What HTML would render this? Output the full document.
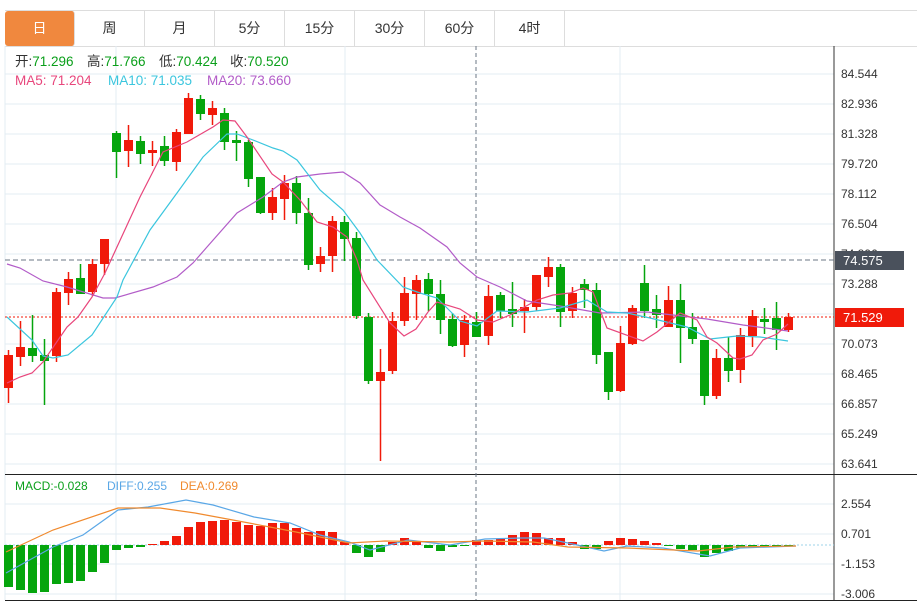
<!DOCTYPE html>
<html><head><meta charset="utf-8"><style>
body{margin:0;background:#fff;width:917px;height:606px;overflow:hidden;font-family:"Liberation Sans","Noto Sans CJK SC",sans-serif}
.tabs{position:absolute;left:5px;top:10px;height:35px;width:912px;border-top:1px solid #ddd;border-bottom:1px solid #ddd}
.tab{position:absolute;top:0;height:35px;width:70px;border-right:1px solid #ddd;text-align:center;line-height:35px;font-size:14px;color:#333;box-sizing:border-box}
.tab.on{background:#f0883e;color:#fff;border-radius:3px}
</style></head><body>
<div class="tabs">
<div class="tab on" style="left:0">日</div><div class="tab" style="left:70px">周</div><div class="tab" style="left:140px">月</div><div class="tab" style="left:210px">5分</div><div class="tab" style="left:280px">15分</div><div class="tab" style="left:350px">30分</div><div class="tab" style="left:420px">60分</div><div class="tab" style="left:490px">4时</div>
</div>
<svg id="s" width="917" height="606" style="position:absolute;left:0;top:0" font-family="Liberation Sans, Noto Sans CJK SC, sans-serif">
<g stroke="#e3ecf3" stroke-width="1">
<line x1="5" y1="74" x2="834" y2="74"/><line x1="5" y1="104" x2="834" y2="104"/><line x1="5" y1="134" x2="834" y2="134"/><line x1="5" y1="164" x2="834" y2="164"/><line x1="5" y1="194" x2="834" y2="194"/><line x1="5" y1="224" x2="834" y2="224"/><line x1="5" y1="254" x2="834" y2="254"/><line x1="5" y1="284" x2="834" y2="284"/><line x1="5" y1="314" x2="834" y2="314"/><line x1="5" y1="344" x2="834" y2="344"/><line x1="5" y1="374" x2="834" y2="374"/><line x1="5" y1="404" x2="834" y2="404"/><line x1="5" y1="434" x2="834" y2="434"/><line x1="5" y1="464" x2="834" y2="464"/>
<line x1="5" y1="504" x2="834" y2="504"/><line x1="5" y1="534" x2="834" y2="534"/><line x1="5" y1="564" x2="834" y2="564"/><line x1="5" y1="594" x2="834" y2="594"/>
<line x1="116" y1="46" x2="116" y2="600"/><line x1="345" y1="46" x2="345" y2="600"/><line x1="620" y1="46" x2="620" y2="600"/>
<line x1="5" y1="46" x2="5" y2="600"/>
</g>
<line x1="834" y1="46" x2="834" y2="600" stroke="#333"/>
<line x1="5" y1="474.5" x2="917" y2="474.5" stroke="#222"/>
<line x1="5" y1="600.5" x2="917" y2="600.5" stroke="#222"/>
<line x1="476" y1="46" x2="476" y2="600" stroke="#6b7785" stroke-dasharray="4,3"/>
<line x1="5" y1="260" x2="834" y2="260" stroke="#6b7785" stroke-dasharray="5,3"/>
<line x1="5" y1="317" x2="834" y2="317" stroke="#f01a0a" stroke-dasharray="2,2"/>
<line x1="5" y1="545" x2="834" y2="545" stroke="#9cd3e8" stroke-dasharray="2,2"/>
<g id="c"></g>
<g fill="none" stroke-width="1.2">
<polyline stroke="#b25cc8" points="7,264 20,268 43,281 67,287 103,298 115,298 153,287 177,277 193,263 207,247 237,213 263,197 283,182 297,177 320,174 343,172 360,183 380,205 400,217 420,228 447,247 460,263 477,277 500,287 527,301 560,306 600,313 647,312 707,319 743,325 788,331"/>
<polyline stroke="#3bc6de" points="7,317 32,340 43,356 53,358 68,355 92,335 117,297 123,280 150,230 177,193 203,157 227,134 237,134 253,140 273,148 283,151 297,160 320,190 343,210 360,233 377,260 403,287 420,293 437,298 460,321 477,326 497,311 527,312 560,308 587,300 607,312 627,313 650,318 687,327 710,339 737,336 760,337 788,341"/>
<polyline stroke="#e8467c" points="7,383 20,377 32,373 43,362 67,327 78,317 92,297 105,273 140,197 163,152 187,142 213,127 223,120 235,121 247,137 272,174 283,182 300,200 317,222 333,227 347,237 357,260 363,280 390,323 404,336 416,329 428,312 437,302 460,309 477,320 493,322 510,315 537,300 553,295 570,293 583,288 593,292 607,328 643,341 657,332 680,313 697,320 707,337 717,343 733,358 740,359 752,355 763,340 777,334 788,324"/>
<polyline stroke="#5aa7e6" points="6,573 53,547 83,535 118,510 148,507 186,500 213,505 254,517 290,523 320,535 349,542 370,550 408,540 450,545 485,539 521,538 544,538 568,543 604,551 627,546 663,548 710,556 740,548 796,546"/>
<polyline stroke="#f08a2e" points="6,552 53,530 118,508 160,508 195,513 249,523 296,532 349,543 385,541 450,542 485,541 533,542 568,547 627,548 698,551 734,547 796,546"/>
</g>
<g font-size="12" fill="#333">
<text x="841" y="78">84.544</text><text x="841" y="108">82.936</text><text x="841" y="138">81.328</text><text x="841" y="168">79.720</text><text x="841" y="198">78.112</text><text x="841" y="228">76.504</text><text x="841" y="258">74.896</text><text x="841" y="288">73.288</text><text x="841" y="348">70.073</text><text x="841" y="378">68.465</text><text x="841" y="408">66.857</text><text x="841" y="438">65.249</text><text x="841" y="468">63.641</text>
<text x="841" y="508">2.554</text><text x="841" y="538">0.701</text><text x="841" y="568">-1.153</text><text x="841" y="598">-3.006</text>
</g>
<rect x="835" y="251" width="69" height="19" fill="#4a515c"/><text x="843" y="265" font-size="13" fill="#fff">74.575</text>
<rect x="835" y="308" width="69" height="19" fill="#f01a0a"/><text x="843" y="322" font-size="13" fill="#fff">71.529</text>
<g font-size="13.5">
<text x="15" y="66" fill="#333">开:<tspan fill="#0a9f1a">71.296</tspan></text>
<text x="87" y="66" fill="#333">高:<tspan fill="#0a9f1a">71.766</tspan></text>
<text x="159" y="66" fill="#333">低:<tspan fill="#0a9f1a">70.424</tspan></text>
<text x="230" y="66" fill="#333">收:<tspan fill="#0a9f1a">70.520</tspan></text>
<text x="15" y="85" fill="#e8467c">MA5: 71.204</text><text x="108" y="85" fill="#3bc6de">MA10: 71.035</text><text x="207" y="85" fill="#b25cc8">MA20: 73.660</text>
</g>
<g font-size="12">
<text x="15" y="490" fill="#0a9f1a">MACD:-0.028</text><text x="107" y="490" fill="#5aa7e6">DIFF:0.255</text><text x="180" y="490" fill="#f08a2e">DEA:0.269</text>
</g>
</svg>
<script>
var C=[
[1,355,388,350,403],[1,347,357,321,366],[0,348,356,315,362],[0,355,361,339,405],[1,292,356,288,362],[1,279,293,272,305],[0,278,294,264,294],[1,264,292,259,296],[1,239,264,239,275],
[0,133,152,131,178],[1,140,151,125,167],[0,141,154,136,164],[1,150,153,141,166],[0,146,161,136,166],[1,132,162,129,171],[1,98,134,93,134],[0,99,114,95,120],[1,108,115,101,125],[0,113,142,108,150],
[0,140,143,131,161],[0,142,179,140,187],[0,177,213,177,214],[1,197,213,188,220],[1,183,199,175,220],[0,183,213,176,224],[0,213,265,198,270],[1,256,264,247,272],[1,221,256,216,272],[0,222,239,216,261],
[0,238,316,232,319],[0,317,381,313,384],[1,372,381,349,461],[1,321,371,312,374],[1,293,321,277,326],[1,280,294,275,320],[0,279,294,273,311],[0,294,320,280,334],[0,319,346,313,347],
[1,320,345,315,357],[0,322,337,312,330],[1,296,336,285,345],[0,295,311,292,318],[0,309,314,282,327],[1,307,311,299,333],[1,275,307,275,311],[1,267,277,257,287],[0,267,312,264,327],[1,293,311,287,318],
[0,284,290,279,308],[0,290,355,283,364],[0,352,392,352,400],[1,343,391,326,392],[1,308,344,305,345],[0,283,311,265,318],[0,309,315,295,328],[1,300,327,286,327],[0,300,328,284,363],[0,327,339,313,344],
[0,340,396,340,405],[1,358,396,349,399],[0,358,371,337,382],[1,335,370,328,383],[1,316,336,310,347],[0,319,322,308,334],[0,318,330,302,350],[1,317,330,313,332]];
var M=[587,590,593,592,584,583,581,572,563,550,548,547,544,541,536,527,522,521,520,522,525,526,523,523,528,532,531,532,542,553,557,552,542,538,542,548,551,547,546,540,540,539,535,532,533,538,538,542,549,549,541,538,539,541,543,546,549,550,557,553,551,548,547,546,546,546];
var h='';
for(var i=0;i<C.length;i++){var c=C[i],x=8.5+12*i,col=c[0]?'#f01a0a':'#05a50d';
h+='<line x1="'+x+'" y1="'+c[3]+'" x2="'+x+'" y2="'+c[4]+'" stroke="'+col+'" stroke-width="1.5"/>';
h+='<rect x="'+(x-4.5)+'" y="'+c[1]+'" width="9" height="'+Math.max(1.5,c[2]-c[1])+'" fill="'+col+'"/>';
var m=M[i],y0=Math.min(m,545),hh=Math.abs(m-545);if(hh<1)hh=1;
h+='<rect x="'+(x-4.5)+'" y="'+y0+'" width="9" height="'+hh+'" fill="'+(m<545?'#f01a0a':'#05a50d')+'"/>';}
document.getElementById('c').innerHTML=h;
</script>
</body></html>
